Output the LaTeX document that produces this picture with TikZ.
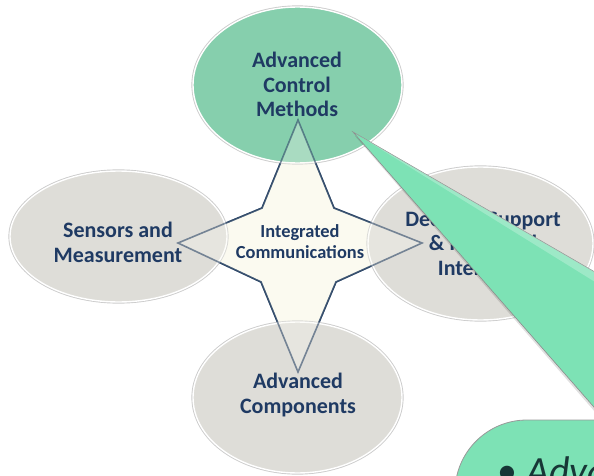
\documentclass[tikz,border=0pt]{standalone}
\usepackage{fontspec}
\setmainfont{Carlito}
\usetikzlibrary{shapes.geometric}
\definecolor{navy}{HTML}{1F3A63}
\definecolor{starline}{HTML}{2B4566}
\definecolor{cream}{HTML}{FBFAF0}
\definecolor{greyfill}{HTML}{DEDDD8}
\definecolor{greenfill}{HTML}{86CFAD}
\definecolor{callgreen}{HTML}{7DE2B5}
\definecolor{darkteal}{HTML}{173636}
\tikzset{
  x=1pt, y=-1pt,
  bubble/.style={ellipse, inner sep=0pt,
    preaction={draw=black!20, line width=3.2pt},
    draw=white, line width=1.4pt},
  greybubble/.style={bubble, fill=greyfill},
  greenbubble/.style={bubble, fill=greenfill},
  label/.style={text=navy, font=\bfseries\fontsize{22}{24.5}\selectfont, align=center, inner sep=0pt},
  starlabel/.style={text=navy, font=\bfseries\fontsize{18.4}{21}\selectfont, align=center, inner sep=0pt},
  starpath/.style={line width=1.6pt, line join=miter},
}
\begin{document}
\begin{tikzpicture}
\useasboundingbox (0,0) rectangle (594,476);
\clip (0,0) rectangle (594,476);
% star
\coordinate (st) at (298,120);
\coordinate (sr) at (422,243);
\coordinate (sb) at (298,372);
\coordinate (sl) at (178,243);
\coordinate (s1) at (334,208);
\coordinate (s2) at (336,282);
\coordinate (s3) at (261,282);
\coordinate (s4) at (262,208);
\draw[starpath, fill=cream, draw=starline]
  (st) -- (s1) -- (sr) -- (s2) -- (sb) -- (s3) -- (sl) -- (s4) -- cycle;
% ellipses
\node[greenbubble, minimum width=209pt, minimum height=156pt] (top) at (297.5,85) {};
\node[greybubble, minimum width=217pt, minimum height=131pt] (left) at (118.5,236.5) {};
\node[greybubble, minimum width=225pt, minimum height=153pt] (right) at (480.5,243.5) {};
\node[greybubble, minimum width=209pt, minimum height=151pt] (bottom) at (297.5,397.5) {};
% star seen through the ellipses
\draw[starpath, fill=cream, fill opacity=0.3, draw=starline, draw opacity=0.6]
  (st) -- (s1) -- (sr) -- (s2) -- (sb) -- (s3) -- (sl) -- (s4) -- cycle;
% labels
\node[label, anchor=base] (tl) at (297,117) {Advanced\\Control\\Methods};
\node[label, anchor=base] (ll) at (118,262) {Sensors and\\Measurement};
\node[label, anchor=base] (rl) at (483,275) {Decision Support\\\& Improved\\Interfaces};
\node[label, anchor=base] (bl) at (298,413) {Advanced\\Components};
\node[starlabel, anchor=base] (sc) at (300,258) {Integrated\\Communications};
% callout wedge
\coordinate (ctip) at (353,132);
\coordinate (cu) at (600,275);
\coordinate (cd) at (600,414);
\fill[black, opacity=0.12] ([shift={(2,4)}]ctip) -- ([shift={(2,6)}]cu) -- ([shift={(2,6)}]cd) -- cycle;
\draw[fill=callgreen, draw=black!45, line width=0.6pt] (ctip) -- (cu) -- (cd) -- cycle;
\fill[white, opacity=0.25] (ctip) -- (cu) -- ([shift={(0,10)}]cu) -- cycle;
% callout box
\coordinate (bx1) at (455,420);
\coordinate (bx2) at (700,600);
\draw[fill=callgreen, draw=black!40, line width=0.8pt, rounded corners=72pt] (bx1) rectangle (bx2);
\node[text=darkteal, font=\fontsize{40}{44}\selectfont, anchor=base, inner sep=0pt] (bul) at (507,484) {•};
\node[text=darkteal, font=\itshape\fontsize{40}{44}\selectfont, anchor=base west, inner sep=0pt] (adv) at (526,484) {Advanced};
\end{tikzpicture}
\end{document}
